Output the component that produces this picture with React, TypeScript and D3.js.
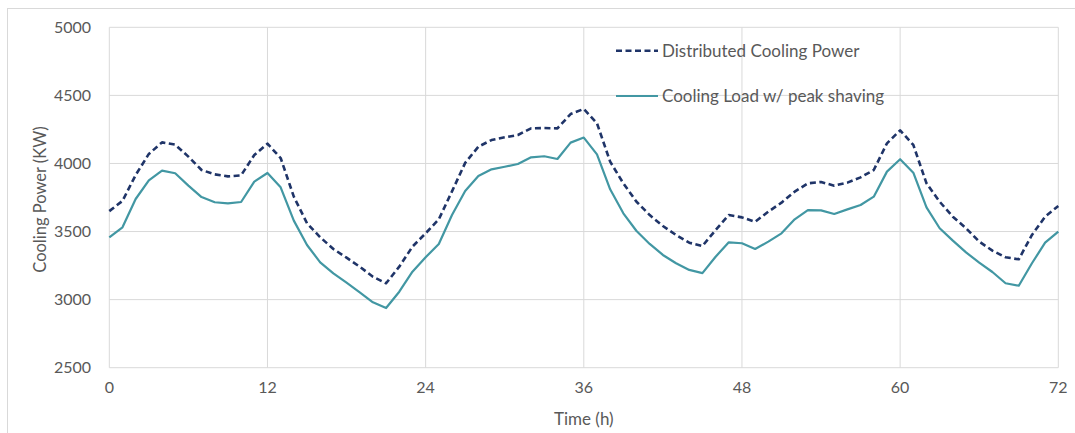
import React, { useEffect, useRef } from 'react';
import { select, scaleLinear, line, range } from 'd3';

const hours = range(0, 73);

const distributedPower = [
  3650, 3725, 3915, 4070, 4155, 4138, 4050, 3952, 3920, 3905,
  3913, 4062, 4145, 4040, 3756, 3561, 3458, 3372, 3308, 3242,
  3168, 3120, 3242, 3389, 3487, 3590, 3795, 4004, 4123, 4172,
  4192, 4209, 4258, 4260, 4258, 4363, 4400, 4295, 4013, 3854,
  3719, 3621, 3541, 3475, 3418, 3394, 3511, 3621, 3604, 3572,
  3646, 3712, 3793, 3854, 3864, 3837, 3859, 3898, 3952, 4148,
  4243, 4136, 3854, 3719, 3609, 3524, 3426, 3360, 3311, 3296,
  3475, 3609, 3688,
];

const peakShavingLoad = [
  3457, 3531, 3739, 3876, 3947, 3928, 3837, 3753, 3715, 3707,
  3717, 3866, 3930, 3825, 3580, 3401, 3274, 3193, 3125, 3054,
  2980, 2938, 3058, 3205, 3311, 3409, 3621, 3798, 3908, 3957,
  3976, 3996, 4045, 4053, 4033, 4153, 4190, 4067, 3810, 3634,
  3504, 3409, 3328, 3267, 3218, 3195, 3315, 3421, 3414, 3372,
  3426, 3487, 3590, 3658, 3655, 3629, 3663, 3695, 3756, 3940,
  4031, 3932, 3678, 3524, 3433, 3347, 3271, 3203, 3120, 3102,
  3267, 3418, 3500,
];

const xTicks = [0, 12, 24, 36, 48, 60, 72];
const yTicks = [2500, 3000, 3500, 4000, 4500, 5000];

const seriesNames = ['Distributed Cooling Power', 'Cooling Load w/ peak shaving'];

export default function App() {
  const svgRef = useRef<SVGSVGElement>(null);

  useEffect(() => {
    const width = 1075;
    const height = 433;
    const margin = { left: 109.3, right: 1075 - 1058.3, top: 27.3, bottom: 433 - 367.7 };
    const font = 'Lato, "Open Sans", sans-serif';
    const textColor = '#595959';
    const gridColor = '#d9d9d9';

    const svg = select(svgRef.current)
      .attr('width', width)
      .attr('height', height);
    svg.selectAll('*').remove();

    const x = scaleLinear().domain([0, 72]).range([margin.left, width - margin.right]);
    const y = scaleLinear().domain([2500, 5000]).range([height - margin.bottom, margin.top]);

    // outer chart border
    svg.append('rect')
      .attr('x', 7.5).attr('y', 8.5)
      .attr('width', width).attr('height', height)
      .attr('fill', 'white')
      .attr('stroke', gridColor);

    // grid
    svg.append('g')
      .selectAll('line')
      .data(yTicks)
      .join('line')
      .attr('x1', x(0)).attr('x2', x(72))
      .attr('y1', d => y(d)).attr('y2', d => y(d))
      .attr('stroke', gridColor).attr('stroke-width', 1);

    svg.append('g')
      .selectAll('line')
      .data(xTicks)
      .join('line')
      .attr('x1', d => x(d)).attr('x2', d => x(d))
      .attr('y1', y(2500)).attr('y2', y(5000))
      .attr('stroke', gridColor).attr('stroke-width', 1);

    // tick labels
    svg.append('g')
      .selectAll('text')
      .data(yTicks)
      .join('text')
      .attr('x', 91)
      .attr('y', d => y(d))
      .attr('dy', '0.35em')
      .attr('text-anchor', 'end')
      .attr('font-family', font)
      .attr('font-size', 16)
      .attr('fill', textColor)
      .text(d => d);

    svg.append('g')
      .selectAll('text')
      .data(xTicks)
      .join('text')
      .attr('x', d => x(d))
      .attr('y', 387)
      .attr('dy', '0.35em')
      .attr('text-anchor', 'middle')
      .attr('font-family', font)
      .attr('font-size', 16)
      .attr('fill', textColor)
      .text(d => d);

    // axis titles
    svg.append('text')
      .attr('x', (x(0) + x(72)) / 2)
      .attr('y', 419)
      .attr('dy', '0.35em')
      .attr('text-anchor', 'middle')
      .attr('font-family', font)
      .attr('font-size', 17)
      .attr('fill', textColor)
      .text('Time (h)');

    svg.append('text')
      .attr('transform', `translate(40, ${(y(2500) + y(5000)) / 2 + 2}) rotate(-90)`)
      .attr('dy', '0.35em')
      .attr('text-anchor', 'middle')
      .attr('font-family', font)
      .attr('font-size', 16.5)
      .attr('fill', textColor)
      .text('Cooling Power (KW)');

    const lineGen = line<number>()
      .x((_, i) => x(hours[i]))
      .y(d => y(d));

    svg.append('path')
      .datum(peakShavingLoad)
      .attr('d', lineGen)
      .attr('fill', 'none')
      .attr('stroke', '#4297a3')
      .attr('stroke-width', 2.2)
      .attr('stroke-linejoin', 'round');

    svg.append('path')
      .datum(distributedPower)
      .attr('d', lineGen)
      .attr('fill', 'none')
      .attr('stroke', '#1f3468')
      .attr('stroke-width', 2.6)
      .attr('stroke-dasharray', '6,3.5')
      .attr('stroke-linejoin', 'round');

    // legend
    const legend = svg.append('g');
    const legendItems = [
      { name: seriesNames[0], color: '#1f3468', dash: '6,3.5', w: 2.6, y: 50.7 },
      { name: seriesNames[1], color: '#4297a3', dash: null, w: 2.2, y: 96 },
    ];
    legendItems.forEach(item => {
      legend.append('line')
        .attr('x1', 616).attr('x2', 658)
        .attr('y1', item.y).attr('y2', item.y)
        .attr('stroke', item.color)
        .attr('stroke-width', item.w)
        .attr('stroke-dasharray', item.dash);
      legend.append('text')
        .attr('x', 662)
        .attr('y', item.y)
        .attr('dy', '0.35em')
        .attr('font-family', font)
        .attr('font-size', 17)
        .attr('fill', textColor)
        .text(item.name);
    });
  }, []);

  return (
    <div style={{ position: 'absolute', left: 0, top: 0 }}>
      <svg ref={svgRef} style={{ display: 'block' }} />
    </div>
  );
}
